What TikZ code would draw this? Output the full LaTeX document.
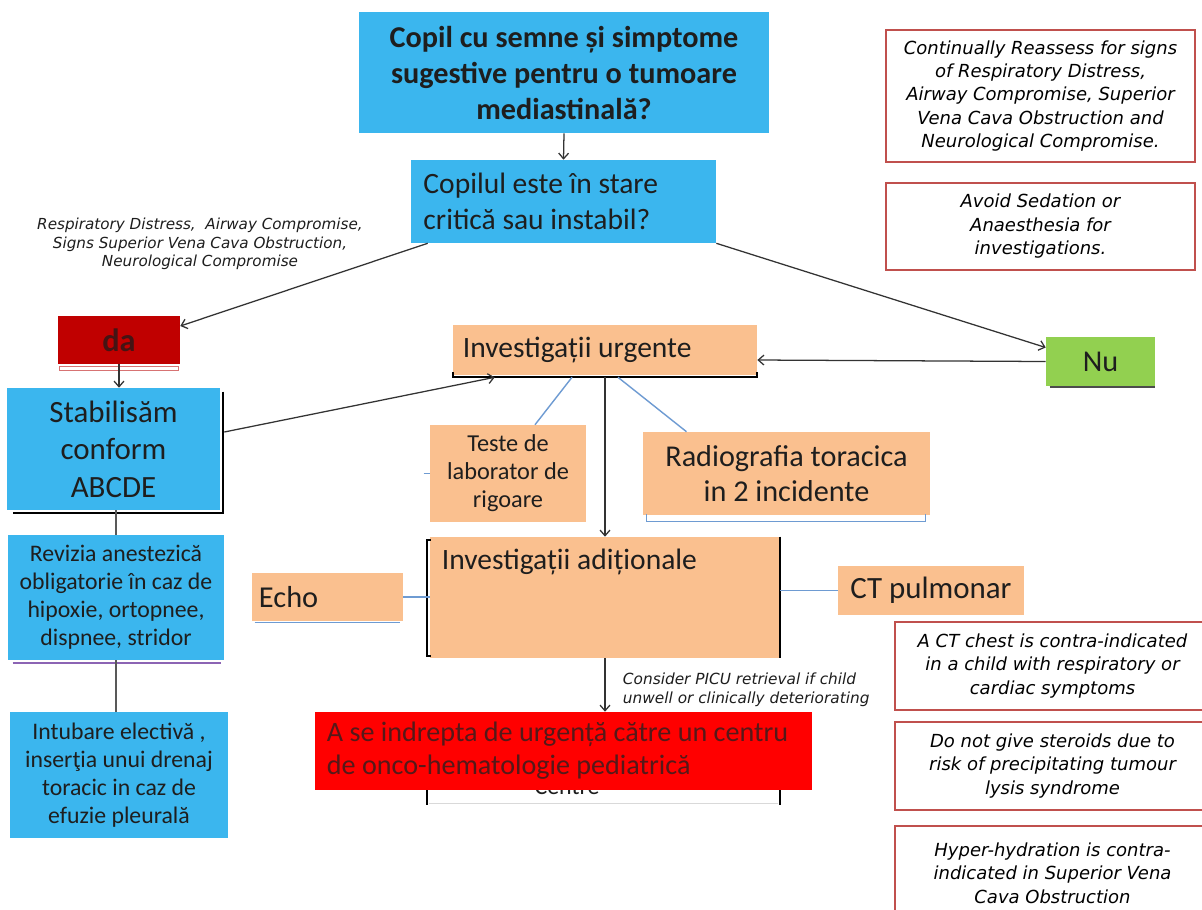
\documentclass[tikz,border=0pt]{standalone}
\usepackage{fontspec}
\setmainfont{Carlito}
\newfontfamily\notefont{DejaVu Sans}
\usetikzlibrary{positioning,arrows.meta,calc}
\definecolor{boxcyan}{RGB}{59,182,238}
\definecolor{boxorange}{RGB}{250,192,143}
\definecolor{boxgreen}{RGB}{146,208,80}
\definecolor{darkred}{RGB}{192,0,0}
\definecolor{alarmred}{RGB}{255,0,0}
\definecolor{noteframe}{RGB}{192,80,77}
\definecolor{inktext}{RGB}{30,30,30}
\definecolor{redink}{RGB}{85,25,25}
\definecolor{linkblue}{RGB}{110,155,210}
\definecolor{lowred}{RGB}{215,115,115}
\definecolor{lowpurple}{RGB}{140,100,180}
\tikzset{
  flowbox/.style={rectangle,inner sep=0pt,text=inktext},
  cyanbox/.style={flowbox,fill=boxcyan},
  orangebox/.style={flowbox,fill=boxorange},
  notebox/.style={rectangle,draw=noteframe,line width=1.8pt,fill=white,
    inner sep=0pt,align=center,text=black,
    font=\notefont\itshape\fontsize{12.8}{16.7}\selectfont},
  flowarrow/.style={draw=black!80,line width=0.9pt,-{Straight Barb[length=4pt,width=7pt]}},
  flowline/.style={draw=black!65,line width=1pt},
  bluelink/.style={draw=linkblue,line width=1pt},
  shadowline/.style={draw=black,line width=1.6pt},
  sidenote/.style={text=inktext,font=\notefont\itshape\fontsize{10.8}{13.2}\selectfont}
}

\begin{document}
\begin{tikzpicture}[x=0.025cm,y=-0.025cm]
  \useasboundingbox[fill=white] (0,0) rectangle (1202,909);

  % top of the chart
  \node[cyanbox,minimum width=10.25cm,minimum height=3.025cm,align=center,
        font=\bfseries\fontsize{21.5}{25.6}\selectfont] (title) at (564,72.5)
    {Copil cu semne și simptome\\sugestive pentru o tumoare\\mediastinală?};
  \node[cyanbox,minimum width=7.625cm,minimum height=2.075cm,
        text width=7.0cm,align=flush left,
        font=\fontsize{21}{25.6}\selectfont] (crit) at (563.5,201.5)
    {Copilul este în stare\\critică sau instabil?};
  \node[sidenote,align=center] (critnote) at (200,244)
    {Respiratory Distress,~~Airway Compromise,\\Signs Superior Vena Cava Obstruction,\\Neurological Compromise};

  % da branch
  \node[flowbox,fill=darkred,minimum width=3.05cm,minimum height=1.2cm,
        text=redink!80!black,font=\bfseries\fontsize{23}{24}\selectfont] (da) at (119,340) {da};
  \draw[lowred,line width=1pt] ($(da.south west)+(2,2)$) rectangle ($(da.south east)+(-2,6)$);
  \node[cyanbox,minimum width=5.325cm,minimum height=3.05cm,align=center,
        font=\fontsize{22}{26.7}\selectfont] (stab) at (113.5,449)
    {Stabilisăm\\conform\\ABCDE};
  \draw[shadowline] ($(stab.north east)+(3,4)$) -- ($(stab.south east)+(3,3)$)
    -- ($(stab.south west)+(6,3)$);
  \node[cyanbox,minimum width=5.4cm,minimum height=3.125cm,align=center,
        font=\fontsize{16.9}{20}\selectfont] (rev) at (116,597.5)
    {Revizia anestezică\\obligatorie în caz de\\hipoxie, ortopnee,\\dispnee, stridor};
  \draw[lowpurple,line width=1.2pt] ($(rev.south west)+(5,3)$) -- ($(rev.south east)+(-3,3)$);
  \node[cyanbox,minimum width=5.45cm,minimum height=3.15cm,align=center,
        font=\fontsize{16.9}{20}\selectfont] (intub) at (119,775)
    {Intubare electivă ,\\inserţia unui drenaj\\toracic in caz de\\efuzie pleurală};

  % nu branch
  \node[flowbox,fill=boxgreen,minimum width=2.725cm,minimum height=1.225cm,
        font=\fontsize{21.5}{22}\selectfont] (nu) at (1100.5,361.5) {Nu};
  \draw[shadowline,black!70] ($(nu.south west)+(4,1)$) -- ($(nu.south east)+(0,1)$);

  % investigations
  \node[orangebox,minimum width=7.6cm,minimum height=1.25cm,
        text width=7.1cm,align=flush left,
        font=\fontsize{21}{22}\selectfont] (urg) at (605,350) {Investigații urgente};
  \draw[shadowline] ($(urg.south west)+(0,-3)$) -- ($(urg.south west)+(0,2)$)
    -- ($(urg.south east)+(0,2)$) -- ($(urg.south east)+(0,-3)$);
  \node[orangebox,minimum width=3.9cm,minimum height=2.425cm,align=center,
        font=\fontsize{17.3}{20}\selectfont] (teste) at (508,473.5)
    {Teste de\\laborator de\\rigoare};
  \node[orangebox,minimum width=7.175cm,minimum height=2.075cm,align=center,
        font=\fontsize{21.5}{25}\selectfont] (radio) at (786.5,473.5)
    {Radiografia toracica\\in 2 incidente};
  \draw[bluelink] ($(radio.south west)+(4,-1)$) -- ($(radio.south west)+(4,6)$)
    -- ($(radio.south east)+(-5,6)$) -- ($(radio.south east)+(-5,-1)$);

  % hidden box below the red one
  \node[text=inktext,font=\fontsize{17}{20}\selectfont] (centre) at (567,787) {Centre};
  \draw[shadowline] (427,760) -- (427,805);
  \draw[shadowline] (780,760) -- (780,805);
  \draw[black!15,line width=0.6pt] (429,803) -- (778,803);

  \node[orangebox,minimum width=8.75cm,minimum height=3.025cm] (adit) at (605,597.5) {};
  \node[anchor=north west,inner sep=0pt,text=inktext,
        font=\fontsize{21}{22}\selectfont] (aditlbl) at ($(adit.north west)+(12,12)$)
    {Investigații adiționale};
  \draw[shadowline] ($(adit.north west)+(1,3)$) -- ($(adit.north west)+(-3,3)$)
    -- ($(adit.south west)+(-3,-2)$) -- ($(adit.south west)+(1,-2)$);
  \draw[shadowline] (adit.north east) -- (adit.south east);
  \node[orangebox,minimum width=3.775cm,minimum height=1.2cm,
        text width=3.425cm,align=flush left,
        font=\fontsize{21.6}{22}\selectfont] (echo) at (327.5,597) {Echo};
  \draw[bluelink] ($(echo.south west)+(3,1)$) -- ($(echo.south east)+(-3,1)$);
  \node[orangebox,minimum width=4.65cm,minimum height=1.225cm,
        font=\fontsize{22}{22}\selectfont] (ct) at (931,590.5) {CT pulmonar};

  \node[flowbox,fill=alarmred,minimum width=12.425cm,minimum height=1.95cm,
        text width=11.825cm,align=flush left,text=redink,
        font=\fontsize{20}{23.5}\selectfont] (red) at (563.5,751)
    {A se indrepta de urgență către un centru\\de onco-hematologie pediatrică};
  \node[sidenote,align=left,anchor=north west,font=\notefont\itshape\fontsize{10.9}{13.5}\selectfont]
    (picu) at (618,668) {Consider PICU retrieval if child\\unwell or clinically deteriorating};

  % connectors
  \draw[flowarrow] (title.south) -- (crit.north);
  \draw[flowarrow] ([xshift=0.425cm]crit.south west) -- ([yshift=0.35cm]da.east);
  \draw[flowarrow] (crit.south east) -- ([yshift=0.35cm]nu.west);
  \draw[flowarrow] (da.south) -- (da.south |- stab.north);
  \draw[flowline] (rev.north |- stab.south) -- (rev.north);
  \draw[flowline] (rev.south) -- (rev.south |- intub.north);
  \draw[flowarrow] ([yshift=0.425cm,xshift=0.1cm]stab.east) -- ([xshift=1.05cm,yshift=-0.05cm]urg.south west);
  \draw[flowarrow] (nu.west) -- ([yshift=-0.25cm]urg.east);
  \draw[bluelink] ([xshift=-0.825cm,yshift=-0.05cm]urg.south) -- ([xshift=0.675cm]teste.north);
  \draw[bluelink] ([xshift=0.325cm,yshift=-0.05cm]urg.south) -- ([xshift=-2.5cm]radio.north);
  \draw[bluelink] ([xshift=-0.15cm]teste.west) -- (teste.west);
  \draw[flowarrow] ([yshift=-0.05cm]urg.south) -- (adit.north);
  \draw[bluelink] (echo.east) -- (echo.east -| adit.west);
  \draw[bluelink] (adit.east |- ct.west) -- (ct.west);
  \draw[flowarrow] (adit.south) -- (adit.south |- red.north);

  % warnings on the right
  \node[notebox,minimum width=7.725cm,minimum height=3.3cm] (keep) at (1040.5,96)
    {Continually Reassess for signs\\of Respiratory Distress,\\Airway Compromise, Superior\\Vena Cava Obstruction and\\Neurological Compromise.};
  \node[notebox,minimum width=7.725cm,minimum height=2.175cm] (sedation) at (1040.5,226.5)
    {Avoid Sedation or\\Anaesthesia for\\investigations.};
  \node[notebox,minimum width=7.875cm,minimum height=2.2cm] (ctwarn) at (1052.5,666)
    {A CT chest is contra-indicated\\in a child with respiratory or\\cardiac symptoms};
  \node[notebox,minimum width=7.875cm,minimum height=2.2cm] (steroid) at (1052.5,766)
    {Do not give steroids due to\\risk of precipitating tumour\\lysis syndrome};
  \node[notebox,minimum width=7.875cm,minimum height=2.35cm] (hydra) at (1052.5,873)
    {Hyper-hydration is contra-\\indicated in Superior Vena\\Cava Obstruction};
\end{tikzpicture}
\end{document}
